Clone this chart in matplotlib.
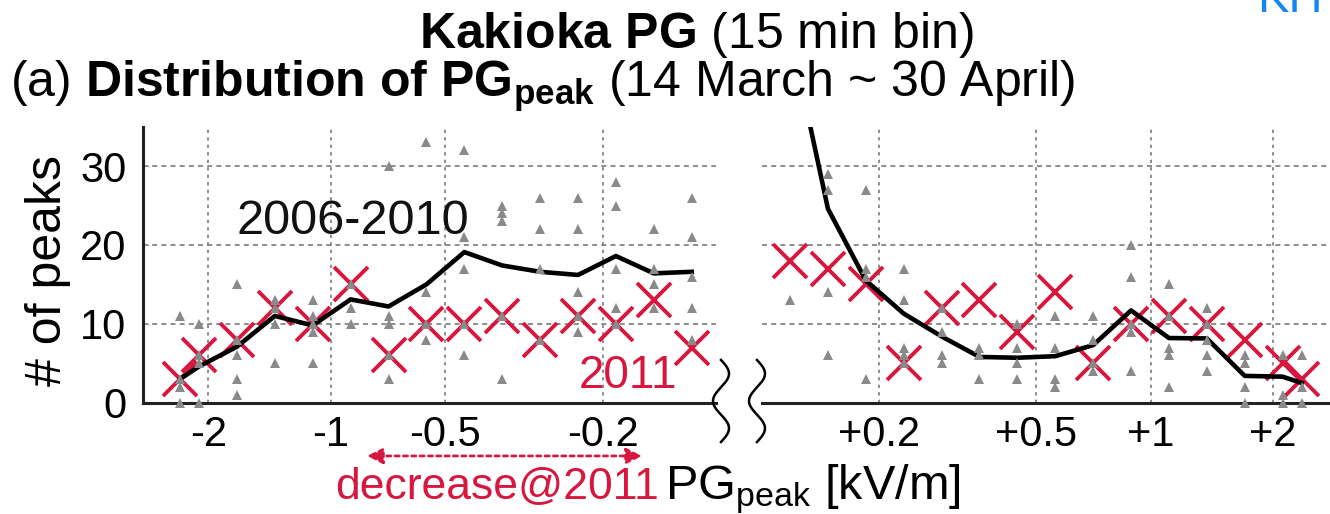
import numpy as np
import matplotlib
matplotlib.use('Agg')
import matplotlib.pyplot as plt
from matplotlib.lines import Line2D

# --- Data ---
# bin coordinates along the (non-linear) PG axis, negative side and positive side
neg_bins = [-0.5, 0, 1, 2, 3, 4, 5, 6, 7, 8, 9, 10, 11, 12, 13]
pos_bins = [0, 1, 2, 3, 4, 5, 6, 7, 8, 9, 10, 11, 12, 13, 13.5]

neg_2011 = [3, 6, 8, 12, 10, 15, 6, 10, 10, 11, 8, 11, 10, 13, 7]
pos_2011 = [18, 17, 15, 5, 12, 13, 9, 14, 5, 10, 11, 10, 8, 5, 3]

neg_mean = [3.0, 4.6, 7.1, 11.0, 9.8, 13.1, 12.2, 15.0, 19.1, 17.4, 16.6, 16.2, 18.6, 16.4, 16.6]
pos_mean = [47, 24.6, 15.5, 11.3, 8.4, 5.8, 5.7, 5.9, 7.3, 11.7, 8.2, 8.15, 3.4, 3.3, 2.5]

# individual years 2006-2010 (visible triangles)
neg_years = [
    [11, 3, 2, 0], [10, 6, 5, 0], [15, 8, 6, 3, 1], [13, 12, 10, 5],
    [13, 11, 10, 9, 5], [15, 12, 10], [30, 11, 10, 6, 3], [33, 14, 10, 8],
    [32, 21, 17, 10, 6], [25, 24, 23, 11, 3], [26, 22, 17, 8],
    [26, 22, 14, 11, 9], [28, 25, 17, 12, 10], [22, 17, 15, 12],
    [26, 21, 16, 12, 8],
]
pos_years = [
    [13], [29, 27, 14, 6], [27, 17, 16, 3], [17, 13, 7, 6, 5], [12, 9, 6, 5],
    [7, 6, 6, 3], [10, 7, 5, 3], [11, 7, 3, 2], [11, 8, 5, 4],
    [20, 16, 10, 9, 4], [15, 11, 7, 6, 2], [12, 10, 8, 6, 4], [6, 5, 2, 0],
    [6, 1, 0], [6, 2, 0],
]

neg_tick_pos = [0.245, 3.475, 6.49, 10.65]
neg_tick_lab = ['-2', '-1', '-0.5', '-0.2']
pos_tick_pos = [2.36, 6.5, 9.52, 12.74]
pos_tick_lab = ['+0.2', '+0.5', '+1', '+2']
y_ticks = [0, 10, 20, 30]

# --- Style ---
RED = '#d8173e'
GRAY = '#8a8a8a'
plt.rcParams['font.family'] = ['Liberation Sans', 'DejaVu Sans']
plt.rcParams['mathtext.fontset'] = 'custom'
plt.rcParams['mathtext.rm'] = 'Liberation Sans'
plt.rcParams['mathtext.bf'] = 'Liberation Sans:bold'
plt.rcParams['mathtext.it'] = 'Liberation Sans:italic'

W, H = 1330, 514
fig = plt.figure(figsize=(W / 100, H / 100), dpi=100)
ax1 = fig.add_axes([143 / W, 1 - 402.7 / H, (716 - 143) / W, 276 / H])
ax2 = fig.add_axes([762 / W, 1 - 402.7 / H, (1330 - 762) / W, 276 / H])


def draw_panel(ax, bins, v2011, vmean, years):
    ax.plot(bins, v2011, 'x', color=RED, ms=24, mew=2.8, zorder=2)
    ax.plot(bins, vmean, '-', color='black', lw=3.3, zorder=3)
    xs = [b for b, ys in zip(bins, years) for _ in ys]
    ys = [y for ys in years for y in ys]
    ax.plot(xs, ys, '^', color=GRAY, ms=7, mew=0, zorder=4, clip_on=False)
    ax.set_ylim(0, 35)
    ax.set_yticks(y_ticks)
    ax.xaxis.grid(True, color='#7a7a7a', linestyle=(0, (2, 2.5)), lw=1.2)
    ax.yaxis.grid(True, color='#7a7a7a', linestyle=(0, (3, 2.5)), lw=1.2)
    ax.set_axisbelow(True)
    for s in ['top', 'right']:
        ax.spines[s].set_visible(False)
    ax.spines['bottom'].set_linewidth(2.2)
    ax.spines['bottom'].set_color('#222222')
    ax.tick_params(axis='x', length=0, labelsize=30, pad=9)


draw_panel(ax1, neg_bins, neg_2011, neg_mean, neg_years)
ax1.set_xlim(-1.478, 13.64)
ax1.set_xticks(neg_tick_pos)
ax1.set_xticklabels(neg_tick_lab)
ax1.spines['left'].set_linewidth(2.2)
ax1.spines['left'].set_color('#222222')
ax1.tick_params(axis='y', direction='in', length=4, color='#999999', labelsize=30, pad=12)

draw_panel(ax2, pos_bins, pos_2011, pos_mean, pos_years)
ax2.set_xlim(-0.74, 14.25)
ax2.set_xticks(pos_tick_pos)
ax2.set_xticklabels(pos_tick_lab)
ax2.spines['left'].set_visible(False)
ax2.tick_params(axis='y', length=0, labelleft=False)

# in-plot labels
ax1.text(4.06, 21.4, '2006-2010', fontsize=35, ha='center', va='baseline', color='#111111')
ax1.text(11.33, 1.86, '2011', fontsize=33, ha='center', va='baseline', color=RED)

# titles
fig.text(696 / W, 1 - 48 / H, r'$\mathbf{Kakioka\ PG}$ (15 min bin)',
         fontsize=36, ha='center', va='baseline')
fig.text(10 / W, 1 - 97 / H,
         r'(a) $\mathbf{Distribution\ of\ PG_{peak}}$ (14 March ~ 30 April)',
         fontsize=36, ha='left', va='baseline')
fig.text(1257 / W, 1 - 12 / H, 'KH', fontsize=34, color='#1485f5', ha='left', va='baseline')

# axis labels
fig.text(48 / W, 1 - 270 / H, '# of peaks', fontsize=36, rotation=90, ha='center', va='center')
fig.text(659 / W, 1 - 499 / H, 'decrease@2011', fontsize=32, color=RED, ha='right', va='baseline')
fig.text(665 / W, 1 - 499 / H, r'PG$_{\mathrm{peak}}$ [kV/m]', fontsize=35, ha='left', va='baseline')

# double arrow for the 2011 decrease range
ax1.annotate('', xy=(11.69, -0.193), xytext=(4.43, -0.193),
             xycoords=('data', 'axes fraction'), textcoords=('data', 'axes fraction'),
             annotation_clip=False,
             arrowprops=dict(arrowstyle='<|-|>', color=RED, lw=2, linestyle=(0, (1.5, 1.5)),
                             mutation_scale=24, shrinkA=0, shrinkB=0))

# axis break squiggles
t = np.linspace(0, 1, 200)
for xc in (721, 757):
    px = xc + 8 * np.sin(3 * np.pi * t)
    py = 442 - 82 * t
    fig.add_artist(Line2D(px / W, 1 - py / H, color='black', lw=1.8))

fig.savefig('out.png', dpi=100)
